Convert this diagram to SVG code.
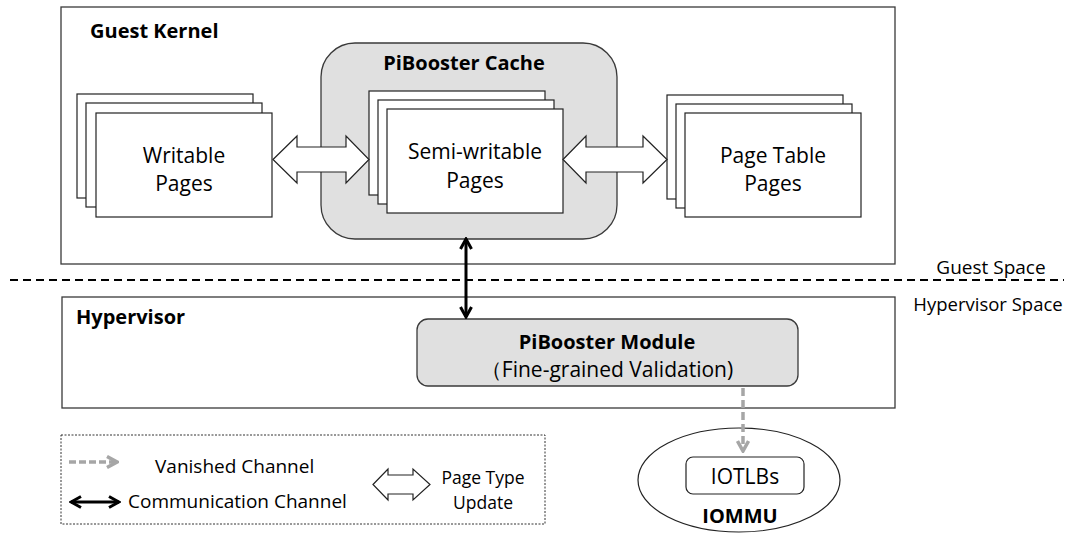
<svg xmlns="http://www.w3.org/2000/svg" width="1068" height="536" viewBox="0 0 1068 536">
<style>
text{font-family:"Open Sans","Liberation Sans",sans-serif;fill:#000}
.b{font-weight:bold;font-size:20px}
.t{font-size:21px}
.s{font-size:19px}
.box{fill:#fff;stroke:#3a3a3a;stroke-width:1.3}
.gray{fill:#e0e0e0;stroke:#3a3a3a;stroke-width:1.3}
.pg{fill:#fff;stroke:#222;stroke-width:1.2}
.blk{fill:#fff;stroke:#222;stroke-width:1.2;stroke-linejoin:miter}
</style>
<defs>
<marker id="chevK" viewBox="0 0 14 14" refX="12" refY="7" markerWidth="14" markerHeight="14" markerUnits="userSpaceOnUse" orient="auto-start-reverse">
<path d="M2,1.5 L12,7 L2,12.5" fill="none" stroke="#000" stroke-width="3"/>
</marker>
<marker id="chevG" viewBox="0 0 14 14" refX="12" refY="7" markerWidth="14" markerHeight="14" markerUnits="userSpaceOnUse" orient="auto-start-reverse">
<path d="M2,1.5 L12,7 L2,12.5" fill="none" stroke="#a6a6a6" stroke-width="3.5"/>
</marker>
</defs>

<g id="guest-kernel">
<rect class="box" x="61" y="7" width="834" height="257"/>
<text class="b" x="90" y="38">Guest Kernel</text>
</g>

<g id="hypervisor">
<rect class="box" x="62" y="297" width="833" height="111"/>
<text class="b" x="76" y="324">Hypervisor</text>
</g>

<g id="separator">
<line x1="10" y1="280" x2="1064" y2="280" stroke="#000" stroke-width="2" stroke-dasharray="8,5"/>
<text class="s" x="991" y="274" text-anchor="middle">Guest Space</text>
<text x="988" y="311" text-anchor="middle" font-size="18.5">Hypervisor Space</text>
</g>

<g id="writable-pages">
<rect class="pg" x="77" y="94" width="176" height="104"/>
<rect class="pg" x="86" y="103" width="176" height="104"/>
<rect class="pg" x="96" y="113" width="176" height="104"/>
<text class="t" x="184" y="163" text-anchor="middle">Writable</text>
<text class="t" x="184" y="191" text-anchor="middle">Pages</text>
</g>

<g id="pibooster-cache">
<rect class="gray" x="321" y="43" width="296" height="196" rx="34"/>
<text class="b" x="464" y="70" text-anchor="middle">PiBooster Cache</text>
<rect class="pg" x="369" y="91" width="176" height="104"/>
<rect class="pg" x="378" y="100" width="176" height="104"/>
<rect class="pg" x="387" y="109" width="176" height="104"/>
<text class="t" x="475" y="159" text-anchor="middle">Semi-writable</text>
<text class="t" x="475" y="188" text-anchor="middle">Pages</text>
</g>

<g id="page-table-pages">
<rect class="pg" x="667" y="95" width="176" height="104"/>
<rect class="pg" x="676" y="104" width="176" height="104"/>
<rect class="pg" x="685" y="113" width="176" height="104"/>
<text class="t" x="773" y="163" text-anchor="middle">Page Table</text>
<text class="t" x="773" y="191" text-anchor="middle">Pages</text>
</g>

<g id="pibooster-module">
<rect class="gray" x="417" y="319" width="381" height="67" rx="11"/>
<text class="b" x="607" y="349" text-anchor="middle">PiBooster Module</text>
<text class="t" x="607" y="377" text-anchor="middle">（Fine-grained Validation)</text>
</g>

<g id="iommu">
<ellipse cx="739" cy="480" rx="101" ry="52" fill="#fff" stroke="#222" stroke-width="1.2"/>
<rect x="686" y="457" width="118" height="37" rx="7" fill="#fff" stroke="#222" stroke-width="1.2"/>
<text class="t" x="745" y="484" text-anchor="middle">IOTLBs</text>
<text class="b" x="740" y="523" text-anchor="middle">IOMMU</text>
</g>

<g id="connectors">
<polygon class="blk" points="273,159.5 297,136 297,147 346,147 346,136 369,159.5 346,183 346,172 297,172 297,183"/>
<polygon class="blk" points="563,159.5 586,136 586,147 643,147 643,136 667,159.5 643,183 643,172 586,172 586,183"/>
<line x1="466" y1="239" x2="466" y2="317" stroke="#000" stroke-width="3" marker-start="url(#chevK)" marker-end="url(#chevK)"/>
<line x1="743" y1="388" x2="743" y2="451" stroke="#a6a6a6" stroke-width="3.5" stroke-dasharray="8,4" marker-end="url(#chevG)"/>
</g>

<g id="legend">
<rect x="61" y="435" width="484" height="89" fill="#fff" stroke="#333" stroke-width="1" stroke-dasharray="2,1.5"/>
<line x1="69" y1="462" x2="117" y2="462" stroke="#a6a6a6" stroke-width="3.5" stroke-dasharray="7,3" marker-end="url(#chevG)"/>
<text class="s" x="155" y="473">Vanished Channel</text>
<line x1="71" y1="502" x2="119" y2="502" stroke="#000" stroke-width="3" marker-start="url(#chevK)" marker-end="url(#chevK)"/>
<text class="s" x="128" y="508">Communication Channel</text>
<polygon class="blk" points="373,484.5 388,469 388,475 413,475 413,469 430,484.5 413,500 413,494 388,494 388,500"/>
<text x="483" y="484" text-anchor="middle" font-size="17.5">Page Type</text>
<text x="483" y="509" text-anchor="middle" font-size="17.5">Update</text>
</g>
</svg>
